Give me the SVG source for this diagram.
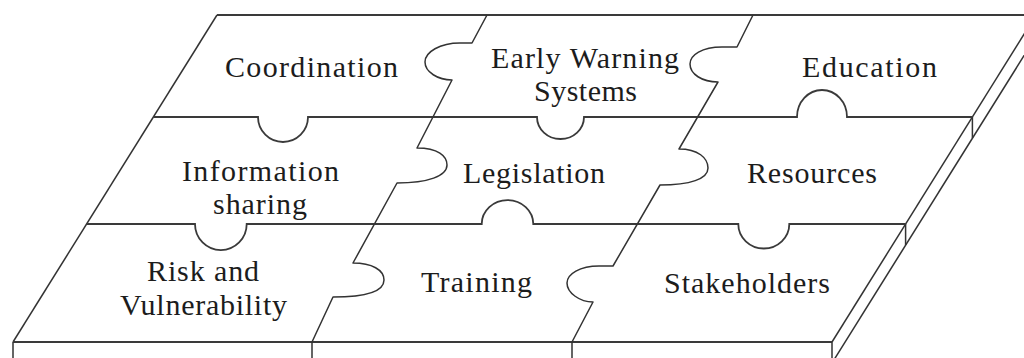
<svg xmlns="http://www.w3.org/2000/svg" width="1024" height="358" viewBox="0 0 1024 358">
  <style>
    .edge { fill: none; stroke: #333; stroke-width: 1.5; stroke-linejoin: round; }
    .row { fill: none; stroke: #3a3a3a; stroke-width: 1.8; }
    .label { font-family: "Liberation Serif", "Times New Roman", serif; font-size: 30px; fill: #1c1c1c; }
  </style>
  <rect width="1024" height="358" fill="#fff"/>

  <!-- board outline: top surface, front face and right side face -->
  <g id="board">
    <path class="row" d="M217,15 L1040,15"/>
    <path class="edge" d="M217,15 L13,342"/>
    <path class="edge" d="M1036,15 L832,342"/>
    <path class="row" d="M13,342 L832,342"/>
    <path class="edge" d="M13,342 V360 M312,342 V360 M572,342 V360 M832,342 V364"/>
    <path class="edge" d="M1050,14 L832,363"/>
    <path class="edge" d="M972.4,117 V138 M905.6,224 V245"/>
  </g>

  <!-- puzzle seams between the pieces -->
  <g id="connectors">
    <path class="row" d="M153.4,117 L258,117 A25 25 0 0 0 308,117 L537,117 A23.5 22 0 0 0 584,117 L797,117 A25 27 0 0 1 847,117 L972.4,117"/>
    <path class="row" d="M86.6,224 L195,224 A25.8 26 0 0 0 246.7,224 L481.7,224 A25.8 24 0 0 1 533.3,224 L738.3,224 A25.5 24.5 0 0 0 789.3,224 L905.6,224"/>
    <path class="edge" d="M487,15 L472,43 L460,43 C440,43 425,52 425,62 C425,72 438,80 452,80 L417,148 C438,148 447,156 447,165 C447,176 428,183 397,183 L353,263 C372,263 384,270 384,280 C384,292 365,297 333,297 L312,342"/>
    <path class="edge" d="M753,15 L737,47 L722,47 C702,47 690,55 690,64 C690,74 702,82 718,82 L679,149 C698,149 708,158 708,168 C708,179 690,185 660,185 L613,266 L599,266 C580,266 567,274 567,283 C567,293 580,302 593,302 L572,342"/>
  </g>

  <g id="coordination"><text class="label" x="225" y="77" textLength="173" lengthAdjust="spacing">Coordination</text></g>
  <g id="early-warning">
    <text class="label" x="491" y="68" textLength="188" lengthAdjust="spacing">Early Warning</text>
    <text class="label" x="534" y="101" textLength="103" lengthAdjust="spacing">Systems</text>
  </g>
  <g id="education"><text class="label" x="802" y="77" textLength="135" lengthAdjust="spacing">Education</text></g>
  <g id="information-sharing">
    <text class="label" x="182" y="181" textLength="157" lengthAdjust="spacing">Information</text>
    <text class="label" x="213" y="214" textLength="94" lengthAdjust="spacing">sharing</text>
  </g>
  <g id="legislation"><text class="label" x="463" y="183" textLength="142" lengthAdjust="spacing">Legislation</text></g>
  <g id="resources"><text class="label" x="747" y="183" textLength="130" lengthAdjust="spacing">Resources</text></g>
  <g id="risk-vulnerability">
    <text class="label" x="147" y="281" textLength="112" lengthAdjust="spacing">Risk and</text>
    <text class="label" x="120" y="315" textLength="167" lengthAdjust="spacing">Vulnerability</text>
  </g>
  <g id="training"><text class="label" x="421" y="292" textLength="111" lengthAdjust="spacing">Training</text></g>
  <g id="stakeholders"><text class="label" x="664" y="293" textLength="166" lengthAdjust="spacing">Stakeholders</text></g>
</svg>
